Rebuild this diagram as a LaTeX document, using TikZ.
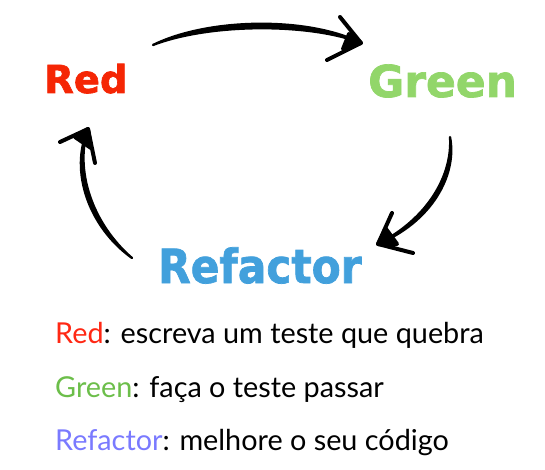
\documentclass[tikz,border=0pt]{standalone}
\usepackage{fontspec}
\setmainfont{Lato}
\newfontfamily\headfont{DejaVu Sans}[BoldFeatures={FakeBold=1.6}]
\definecolor{cRed}{RGB}{245,38,5}
\definecolor{cGreen}{RGB}{146,214,106}
\definecolor{cBlue}{RGB}{66,160,220}
\definecolor{tRed}{RGB}{255,40,20}
\definecolor{tGreen}{RGB}{108,190,74}
\definecolor{tBlue}{RGB}{122,122,255}
\begin{document}
\begin{tikzpicture}[x=1pt,y=-1pt,
  head/.style={inner sep=0pt,anchor=base west},
  legend/.style={inner sep=0pt,anchor=base west,font=\fontsize{28.8}{32}\selectfont},
  brush/.style={line width=2.3pt,line cap=round,line join=round,black,fill=black},
  barb/.style={line width=4pt,line cap=round,line join=round,black}]
\useasboundingbox (0,0) rectangle (545,470);
% labels
\node[head,text=cRed,font=\headfont\bfseries\fontsize{38.5}{42}\selectfont] (red) at (44,93) {Red};
\node[head,text=cGreen,font=\headfont\bfseries\fontsize{44}{48}\selectfont] (green) at (368,97) {Green};
\node[head,text=cBlue,font=\headfont\bfseries\fontsize{47}{52}\selectfont] (refactor) at (158,283) {\scalebox{0.9}[1]{Refactor}};
% arrow end points
\coordinate (a1s) at (153,45);
\coordinate (a1t) at (361,43);
\coordinate (a2s) at (450,137);
\coordinate (a2t) at (378,244);
\coordinate (a3s) at (132,258);
\coordinate (a3t) at (88,129);
% Red -> Green
\draw[brush] (a1s) .. controls (210,17) and (310,17) .. (a1t)
                   .. controls (310,23) and (210,23) .. (a1s) -- cycle;
\draw[barb] (340,17) -- (a1t) -- (327,60);
\draw[barb,fill=black] (349,34) -- (a1t) -- (343,49) -- cycle;
% Green -> Refactor
\draw[brush] (a2s) .. controls (457.5,175) and (431.5,222) .. (a2t)
                   .. controls (428.5,218) and (452.5,175) .. (a2s) -- cycle;
\draw[barb] (392,213) -- (a2t) -- (413,253);
\draw[barb,fill=black] (386,229) -- (a2t) -- (397,244) -- cycle;
% Refactor -> Red
\draw[brush] (a3s) .. controls (92,223.5) and (74.5,170) .. (a3t)
                   .. controls (69.5,170) and (88,226.5) .. (a3s) -- cycle;
\draw[barb] (60,142) -- (a3t) -- (95,163);
\draw[barb,fill=black] (75,137) -- (a3t) -- (91,148) -- cycle;
% legend
\node[legend] (l1) at (55,343) {\textcolor{tRed}{Red}: escreva um teste que quebra};
\node[legend] (l2) at (55,397) {\textcolor{tGreen}{Green}: faça o teste passar};
\node[legend] (l3) at (55,450) {\textcolor{tBlue}{Refactor}: melhore o seu código};
\end{tikzpicture}
\end{document}
